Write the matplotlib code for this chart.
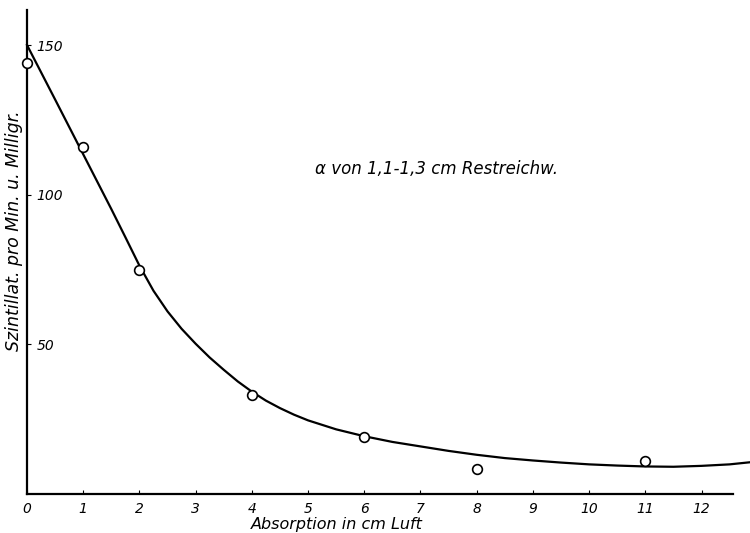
import matplotlib.pyplot as plt

# measured points (open circles)
absorption = [0, 1, 2, 4, 6, 8, 11]
scint = [144, 116, 75, 33, 19, 8.5, 11]

# hand-drawn fit curve
curve_x = [0, 0.5, 1, 1.5, 1.75, 2, 2.25, 2.5, 2.75, 3, 3.25, 3.5, 3.75,
           4, 4.25, 4.5, 4.75, 5, 5.5, 6, 6.5, 7, 7.5, 8, 8.5, 9, 9.5,
           10, 10.5, 11, 11.5, 12, 12.5, 12.86]
curve_y = [150, 131.8, 113.5, 95.2, 85.8, 76.3, 67.9, 61, 55.2, 50.2, 45.6,
           41.5, 37.6, 34.2, 31.2, 28.7, 26.5, 24.6, 21.6, 19.3, 17.4,
           15.9, 14.4, 13.1, 12, 11.2, 10.5, 9.9, 9.5, 9.2, 9.1, 9.4,
           9.9, 10.6]

xticks = list(range(13))
yticks = [50, 100, 150]

font = {'family': 'DejaVu Sans', 'style': 'italic'}

fig = plt.figure(figsize=(7.5, 5.33), dpi=100)
ax = fig.add_axes([27/750, 1 - 494/533, 706/750, 484/533])

ax.plot(curve_x, curve_y, '-k', linewidth=1.6, clip_on=False, zorder=2,
        solid_joinstyle='round')
ax.plot(absorption, scint, 'o', markersize=7, markerfacecolor='white',
        markeredgecolor='black', markeredgewidth=1.2, clip_on=False, zorder=3)

ax.set_xlim(0, 12.56)
ax.set_ylim(0, 161.7)

for side in ['top', 'right']:
    ax.spines[side].set_visible(False)
for side in ['left', 'bottom']:
    ax.spines[side].set_linewidth(1.6)

ax.set_xticks(xticks)
ax.set_xticklabels([str(t) for t in xticks], fontdict=font, fontsize=10)
ax.set_yticks(yticks)
ax.set_yticklabels([str(t) for t in yticks], fontdict=font, fontsize=10)
ax.tick_params(axis='x', direction='in', length=3, width=0.8, pad=6)
ax.tick_params(axis='y', direction='in', length=3, width=0.8, pad=-7)
for t in ax.get_yticklabels():
    t.set_horizontalalignment('left')

ax.set_xlabel('Absorption in cm Luft', fontdict=font, fontsize=11.5)
ax.xaxis.set_label_coords(0.439, -0.047)
ax.set_ylabel('Szintillat. pro Min. u. Milligr.', fontdict=font, fontsize=12.5)
ax.yaxis.set_label_coords(-0.006, 0.545)

ax.text(5.12, 108.7, 'α von 1,1-1,3 cm Restreichw.', fontdict=font,
        fontsize=12, va='center', ha='left')

fig.savefig('out.png', dpi=100)
